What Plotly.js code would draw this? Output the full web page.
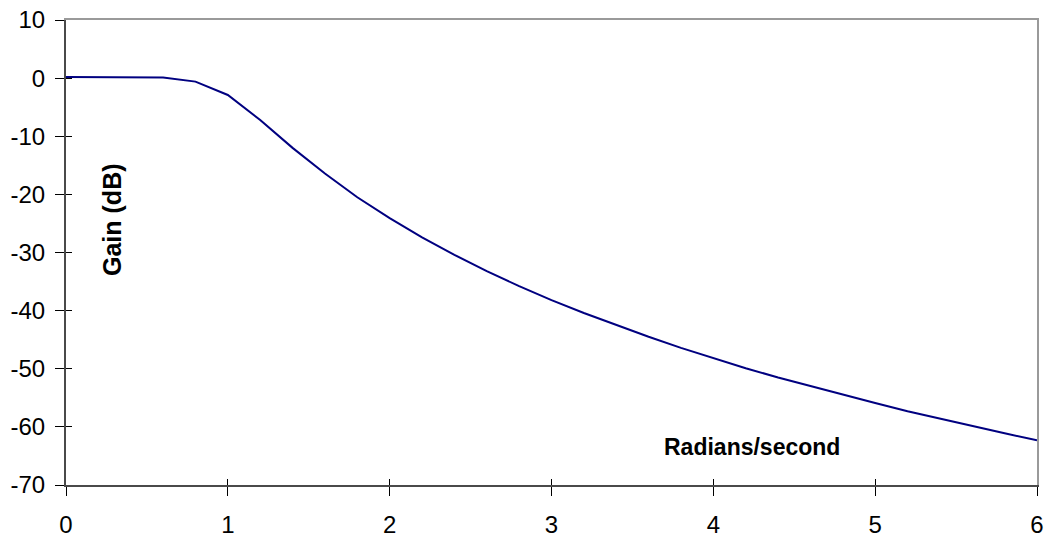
<!DOCTYPE html>
<html>
<head>
<meta charset="utf-8">
<script src="https://cdn.plot.ly/plotly-3.0.1.min.js"></script>
<style>html,body{margin:0;padding:0;background:#fff;}#chart{width:1048px;height:542px;}</style>
</head>
<body>
<div id="chart"></div>
<script>
// Frequency (rad/s) and gain (dB)
const radians = [0, 0.2, 0.4, 0.6, 0.8, 1.0, 1.2, 1.4, 1.6, 1.8, 2.0, 2.2, 2.4, 2.6, 2.8, 3.0,
                 3.2, 3.4, 3.6, 3.8, 4.0, 4.2, 4.4, 4.6, 4.8, 5.0, 5.2, 5.4, 5.6, 5.8, 6.0];
const gainDb = [0.2, 0.2, 0.2, 0.1, -0.6, -2.9, -7.2, -12.0, -16.4, -20.5, -24.1, -27.4, -30.4, -33.2, -35.8, -38.2,
                -40.4, -42.5, -44.5, -46.4, -48.2, -49.9, -51.5, -53.0, -54.5, -55.9, -57.3, -58.6, -59.9, -61.1, -62.3];
const xTicks = [0, 1, 2, 3, 4, 5, 6];
const yTicks = [10, 0, -10, -20, -30, -40, -50, -60, -70];
const xTitle = "Radians/second";
const yTitle = "Gain (dB)";

const FONT = "Liberation Sans, Arial, sans-serif";
const xRange = [0, 6], yRange = [-70, 10];

const traces = [
  {x: radians, y: gainDb, type: "scatter", mode: "lines",
   line: {color: "#000080", width: 2}, hoverinfo: "x+y", showlegend: false},
  {x: radians, y: gainDb, xaxis: "x2", yaxis: "y2", type: "scatter", mode: "lines",
   line: {width: 0}, opacity: 0, hoverinfo: "skip", showlegend: false},
  {x: radians, y: gainDb, xaxis: "x3", yaxis: "y3", type: "scatter", mode: "lines",
   line: {width: 0}, opacity: 0, hoverinfo: "skip", showlegend: false}
];

const layout = {
  width: 1048, height: 542,
  margin: {l: 66, r: 11, t: 20, b: 57},
  paper_bgcolor: "#ffffff", plot_bgcolor: "#ffffff",
  font: {family: FONT, color: "#000", size: 24},
  showlegend: false,
  xaxis: {range: xRange, tickvals: xTicks, ticktext: xTicks.map(String),
          showgrid: false, zeroline: false, showline: true, linecolor: "#4a4a4a", linewidth: 2,
          ticks: "outside", ticklen: 9, tickwidth: 1, tickcolor: "#000",
          ticklabelstandoff: 8, tickfont: {family: FONT, size: 24, color: "#000"}},
  yaxis: {range: yRange, tickvals: yTicks, ticktext: yTicks.map(String),
          showgrid: false, zeroline: false, showline: true, linecolor: "#4a4a4a", linewidth: 2,
          ticks: "outside", ticklen: 9, tickwidth: 1, tickcolor: "#000",
          ticklabelstandoff: 5, tickfont: {family: FONT, size: 24, color: "#000"}},
  xaxis2: {overlaying: "x", anchor: "y2", side: "top", range: xRange,
           showgrid: false, zeroline: false, showline: true, linecolor: "#9a9a9a", linewidth: 2,
           ticks: "", showticklabels: false},
  yaxis2: {overlaying: "y", anchor: "x2", side: "right", range: yRange,
           showgrid: false, zeroline: false, showline: true, linecolor: "#9a9a9a", linewidth: 2,
           ticks: "", showticklabels: false},
  xaxis3: {overlaying: "x", anchor: "y", side: "bottom", range: xRange, tickvals: xTicks,
           showgrid: false, zeroline: false, showline: false,
           ticks: "inside", ticklen: 6, tickwidth: 1, tickcolor: "#000", showticklabels: false},
  yaxis3: {overlaying: "y", anchor: "x", side: "left", range: yRange, tickvals: yTicks,
           showgrid: false, zeroline: false, showline: false,
           ticks: "inside", ticklen: 6, tickwidth: 1, tickcolor: "#000", showticklabels: false},
  annotations: [
    {text: "<b>" + yTitle + "</b>", xref: "paper", yref: "paper", x: 0.0474, y: 0.57,
     xanchor: "center", yanchor: "middle", textangle: -90, showarrow: false,
     font: {family: FONT, size: 25, color: "#000"}},
    {text: "<b>" + xTitle + "</b>", xref: "paper", yref: "paper", x: 0.7065, y: 0.0817,
     xanchor: "center", yanchor: "middle", showarrow: false,
     font: {family: FONT, size: 23, color: "#000"}}
  ]
};

Plotly.newPlot("chart", traces, layout, {displayModeBar: false, staticPlot: true});
</script>
</body>
</html>
